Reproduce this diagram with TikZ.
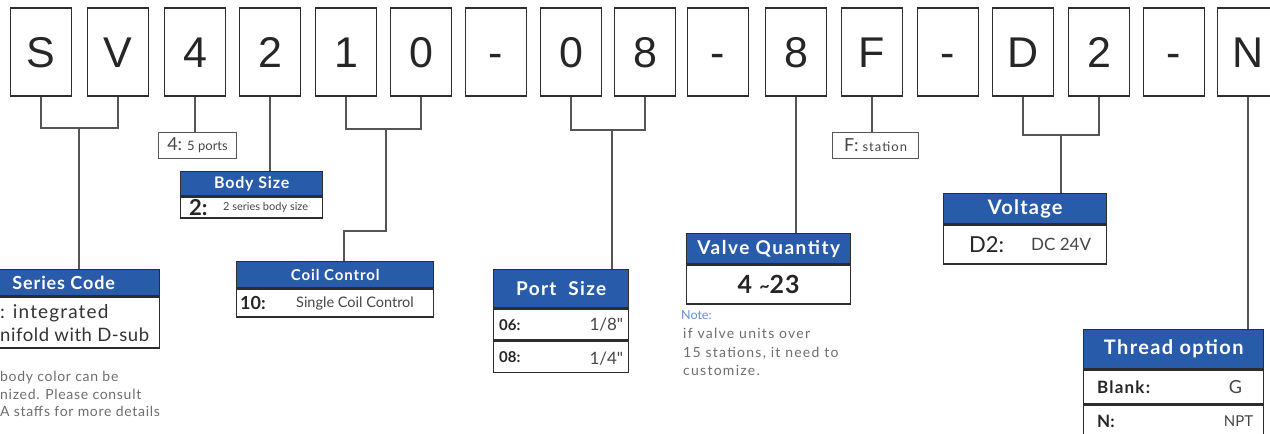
\documentclass[tikz,border=0pt]{standalone}
\usepackage{fontspec}
\setmainfont{Lato}[Ligatures=TeXOff]
\newfontfamily\codefont{Liberation Sans}
\usetikzlibrary{positioning}
\definecolor{hdblue}{RGB}{40,92,170}
\definecolor{boxline}{RGB}{45,45,45}
\definecolor{linkgray}{RGB}{85,85,85}
\definecolor{celltext}{RGB}{70,70,70}
\definecolor{notegray}{RGB}{110,110,110}
\definecolor{noteblue}{RGB}{105,140,215}
\newcommand{\fs}[1]{\fontsize{#1}{#1}\selectfont}
\newcommand{\wide}[1]{\addfontfeatures{LetterSpace=#1}}

\tikzset{
  codebox/.style={draw=boxline, line width=1.4pt, minimum width=61pt, minimum height=88pt,
    inner sep=0pt, text height=31pt, text depth=0pt, font=\codefont\fs{43}, text=black!85},
  head/.style={draw=boxline, fill=hdblue, line width=1.4pt, inner sep=0pt, text=white,
    anchor=north west, font=\bfseries\fs{18}\wide{5}},
  cell/.style={draw=boxline, fill=white, line width=1.4pt, inner sep=0pt},
  tag/.style={draw=boxline!80, line width=1.1pt, inner sep=0pt, minimum height=26pt,
    anchor=north west, text=celltext},
  link/.style={draw=linkgray, line width=1.2pt},
  key/.style={anchor=west, inner sep=0pt, text=black!85, font=\bfseries\fs{15}},
  val/.style={inner sep=0pt, text=celltext},
}

\begin{document}
\begin{tikzpicture}[x=1pt, y=-1pt]
\clip (0,0) rectangle (1270,434);
\fill[white] (0,0) rectangle (1270,434);

% code letters
\node[codebox] (s) at (41,52) {S};
\node[codebox] (v) at (118,52) {V};
\node[codebox] (n4) at (195,52) {4};
\node[codebox] (n2) at (270,52) {2};
\node[codebox] (n1) at (346,52) {1};
\node[codebox] (n0) at (421,52) {0};
\node[codebox] (dash1) at (496,52) {-};
\node[codebox] (n0b) at (571,52) {0};
\node[codebox] (n8) at (645,52) {8};
\node[codebox] (dash2) at (718,52) {-};
\node[codebox] (n8b) at (796,52) {8};
\node[codebox] (f) at (872,52) {F};
\node[codebox] (dash3) at (948,52) {-};
\node[codebox] (d) at (1023,52) {D};
\node[codebox] (n2b) at (1099,52) {2};
\node[codebox] (dash4) at (1174,52) {-};
\node[codebox] (nn) at (1248,52) {N};

% series code
\node[head, minimum width=192pt, minimum height=26pt] (seriesh) at (-33,269) {Series Code};
\node[cell, below=0pt of seriesh, minimum width=192pt, minimum height=51pt] (series) {};
\node[val, anchor=west, font=\fs{19}\wide{6}, text=black!80] (seriesa) at (0,313) {: integrated};
\node[val, anchor=west, font=\fs{18.5}\wide{3}, text=black!80] (seriesb) at (0,335) {nifold with D-sub};
\node[anchor=north west, align=left, inner sep=0pt, text=notegray,
  font=\fontsize{14}{17.5}\selectfont\wide{5}] (seriesnote) at (0,371)
  {body color can be\\nized. Please consult\\A staffs for more details};

% ports and body size
\node[tag, minimum width=78pt] (ports) at (158,132) {{\fs{18}4:}\hspace{5pt}{\fs{13}5 ports}};
\node[head, minimum width=142pt, minimum height=24pt, font=\bfseries\fs{16}\wide{5}] (bodyh) at (180,171) {Body Size};
\node[cell, below=0pt of bodyh, minimum width=142pt, minimum height=21pt] (body) {};
\node[key, font=\bfseries\fs{22}] (bodyk) at ([xshift=9pt]body.west) {2:};
\node[val, anchor=west, font=\fs{11}] (bodyv) at ([xshift=43pt]body.west) {2 series body size};

% coil control
\node[head, minimum width=197pt, minimum height=26pt, font=\bfseries\fs{15}\wide{6}] (coilh) at (236,261) {Coil Control};
\node[cell, below=0pt of coilh, minimum width=197pt, minimum height=28pt] (coil) {};
\node[key, font=\bfseries\fs{18}] (coilk) at ([xshift=4pt]coil.west) {10:};
\node[val, anchor=west, font=\fs{14.5}] (coilv) at ([xshift=60pt]coil.west) {Single Coil Control};

% port size
\node[head, minimum width=135pt, minimum height=38pt, font=\bfseries\fs{19}\wide{7}] (porth) at (493,269) {Port\ \ Size};
\node[cell, below=0pt of porth, minimum width=135pt, minimum height=31pt] (port1) {};
\node[cell, below=0pt of port1, minimum width=135pt, minimum height=31pt] (port2) {};
\node[key, font=\bfseries\fs{15}] (port1k) at ([xshift=6pt]port1.west) {06:};
\node[val, anchor=east, font=\fs{17}] (port1v) at ([xshift=-6pt]port1.east) {1/8"};
\node[key, font=\bfseries\fs{15}] (port2k) at ([xshift=6pt]port2.west) {08:};
\node[val, anchor=east, font=\fs{17}] (port2v) at ([xshift=-6pt,yshift=-2pt]port2.east) {1/4"};

% valve quantity
\node[head, minimum width=164pt, minimum height=30pt, font=\bfseries\fs{19}\wide{8}] (qtyh) at (686,233) {Valve Quantity};
\node[cell, below=0pt of qtyh, minimum width=164pt, minimum height=39pt, font=\bfseries\fs{25}\wide{4}, text=black!85] (qty) {4 \raisebox{1pt}{\fs{18}\textasciitilde}23};
\node[anchor=north west, inner sep=0pt, font=\fs{12.5}, text=noteblue] (notehd) at (681,310) {Note:};
\node[anchor=north west, align=left, inner sep=0pt, text=notegray,
  font=\fontsize{14}{18.5}\selectfont\wide{9}] (note) at (683,328)
  {if valve units over\\15 stations, it need to\\customize.};

% station
\node[tag, minimum width=86pt] (station) at (832,132) {{\fs{18}F:}\hspace{4pt}{\fs{13}\wide{8}station}};

% voltage
\node[head, minimum width=163pt, minimum height=30pt, font=\bfseries\fs{20}\wide{6}] (volth) at (943,193) {Voltage};
\node[cell, below=0pt of volth, minimum width=163pt, minimum height=39pt] (volt) {};
\node[key, font=\fs{22}] (voltk) at ([xshift=26pt]volt.west) {D2:};
\node[val, anchor=west, font=\fs{17}] (voltv) at ([xshift=88pt]volt.west) {DC 24V};

% thread option
\node[head, minimum width=180pt, minimum height=39pt, font=\bfseries\fs{20}\wide{7}] (threadh) at (1083,329) {Thread option};
\node[cell, below=0pt of threadh, minimum width=180pt, minimum height=34pt] (thread1) {};
\node[cell, below=0pt of thread1, minimum width=180pt, minimum height=31pt] (thread2) {};
\node[key, font=\bfseries\fs{17}\wide{7}] (thread1k) at ([xshift=14pt]thread1.west) {Blank:};
\node[val, font=\fs{18}] (thread1v) at ([xshift=-29pt]thread1.east) {G};
\node[key, font=\bfseries\fs{17}] (thread2k) at ([xshift=14pt]thread2.west) {N:};
\node[val, anchor=east, font=\fs{15}] (thread2v) at ([xshift=-11pt]thread2.east) {NPT};

% connectors
\coordinate (svmid) at (79,128);
\draw[link] (s.south) |- (svmid) -| (v.south);
\draw[link] (svmid) -- (svmid |- seriesh.north);
\draw[link] (n4.south) -- (n4.south |- ports.north);
\draw[link] (n2.south) -- (n2.south |- bodyh.north);
\coordinate (coilmid) at (386,129);
\coordinate (coilbend) at (344,231);
\draw[link] (n1.south) |- (coilmid) -| (n0.south);
\draw[link] (coilmid) |- (coilbend) -- (coilbend |- coilh.north);
\coordinate (portmid) at (612,130);
\draw[link] (n0b.south) |- (portmid) -| (n8.south);
\draw[link] (portmid) -- (portmid |- porth.north);
\draw[link] (n8b.south) -- (n8b.south |- qtyh.north);
\draw[link] (f.south) -- (f.south |- station.north);
\coordinate (voltmid) at (1061,135);
\draw[link] (d.south) |- (voltmid) -| (n2b.south);
\draw[link] (voltmid) -- (voltmid |- volth.north);
\draw[link] (nn.south) -- (nn.south |- threadh.north);
\end{tikzpicture}
\end{document}
